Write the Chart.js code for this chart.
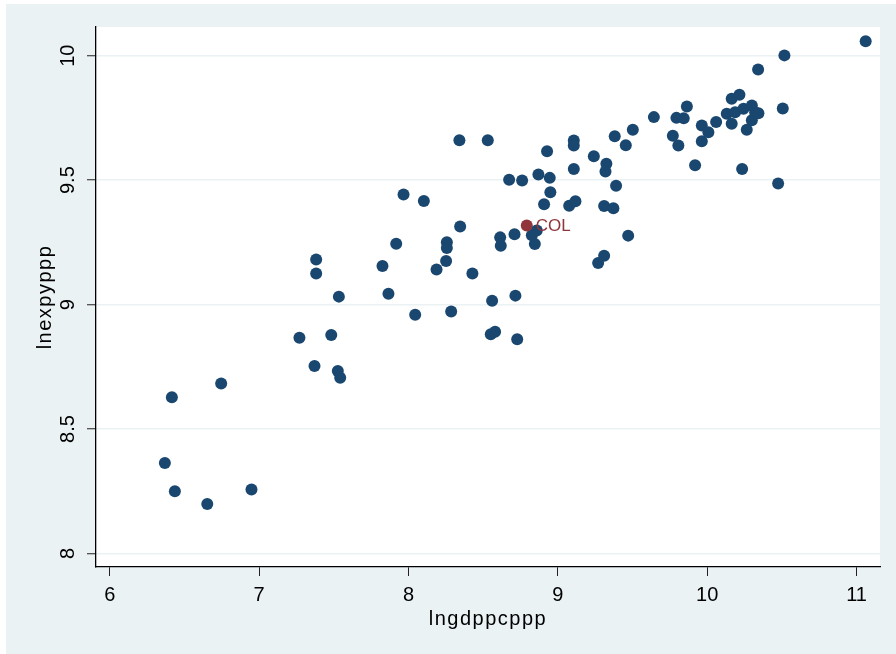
<!DOCTYPE html>
<html>

<head>
    <title>lnexpyppp vs lngdppcppp</title>
    <script src="https://cdn.jsdelivr.net/npm/chart.js"></script>
    <style>
        body { margin: 0; background: #ffffff; }
        #chart { position: absolute; left: 6px; top: 4px; background: #eaf2f3; }
    </style>
</head>

<body>
    <canvas id="chart" width="890" height="650"></canvas>
    <script>
        // values
        const xVals = [6.416, 6.746, 6.369, 6.436, 6.653, 6.949,
            7.270, 7.483, 7.371, 7.527, 7.543, 7.382, 7.382, 7.534, 7.826, 7.866, 7.918, 7.967,
            8.045, 8.103, 8.188, 8.252, 8.257, 8.257, 8.286, 8.346, 8.341, 8.428, 8.531, 8.551,
            8.580, 8.560, 8.614, 8.618, 8.674, 8.710, 8.716, 8.728, 8.761, 8.826, 8.846, 8.859,
            8.870, 8.908, 8.928, 8.946, 8.950, 9.076, 9.107, 9.107, 9.107, 9.118, 9.241, 9.270,
            9.310, 9.310, 9.325, 9.319, 9.372, 9.381, 9.390, 9.455, 9.471, 9.502, 9.643, 9.770,
            9.794, 9.807, 9.843, 9.864, 9.919, 9.964, 9.964, 10.008, 10.060, 10.131, 10.164,
            10.164, 10.187, 10.216, 10.234, 10.243, 10.265, 10.299, 10.299, 10.321, 10.343,
            10.341, 10.475, 10.506, 10.517, 11.061];
        const yVals = [8.628, 8.683, 8.364, 8.250, 8.199, 8.257,
            8.867, 8.878, 8.753, 8.733, 8.706, 9.181, 9.125, 9.032, 9.155, 9.044, 9.244, 9.442,
            8.959, 9.416, 9.141, 9.175, 9.250, 9.227, 8.972, 9.314, 9.660, 9.125, 9.660, 8.881,
            8.891, 9.015, 9.270, 9.236, 9.501, 9.283, 9.036, 8.861, 9.498, 9.279, 9.243, 9.298,
            9.523, 9.403, 9.616, 9.509, 9.451, 9.397, 9.659, 9.639, 9.545, 9.415, 9.596, 9.167,
            9.196, 9.396, 9.566, 9.535, 9.387, 9.676, 9.477, 9.640, 9.277, 9.702, 9.753, 9.678,
            9.750, 9.639, 9.748, 9.796, 9.560, 9.719, 9.656, 9.692, 9.733, 9.767, 9.827,
            9.726, 9.773, 9.843, 9.545, 9.787, 9.702, 9.800, 9.740, 9.773, 9.769,
            9.944, 9.486, 9.788, 10.001, 10.058];

        // highlighted country
        const colX = [8.792];
        const colY = [9.318];
        const colLabel = ['COL'];

        const xTicks = [6, 7, 8, 9, 10, 11];
        const xTickLabels = ['6', '7', '8', '9', '10', '11'];
        const yTicks = [8, 8.5, 9, 9.5, 10];
        const yTickLabels = ['8', '8.5', '9', '9.5', '10'];

        const navy = '#1a476f';
        const maroon = '#90353b';
        const fontFamily = '"Liberation Sans", Arial, Helvetica, sans-serif';

        const mainPoints = xVals.map((x, i) => ({ x: x, y: yVals[i] }));
        const colPoints = colX.map((x, i) => ({ x: x, y: colY[i] }));

        const plotBg = {
            id: 'plotBg',
            beforeDraw(chart) {
                const { ctx, chartArea: a } = chart;
                ctx.save();
                ctx.fillStyle = '#ffffff';
                ctx.fillRect(a.left, a.top, a.right - a.left, a.bottom - a.top);
                ctx.restore();
            }
        };

        // axis titles in the reference are a bit spread out
        const wideTitles = {
            id: 'wideTitles',
            afterLayout(chart) {
                Object.values(chart.scales).forEach(s => {
                    if (s._wideTitle) return;
                    const orig = s.drawTitle;
                    s.drawTitle = function () {
                        this.ctx.letterSpacing = '1.5px';
                        orig.apply(this, arguments);
                        this.ctx.letterSpacing = '0px';
                    };
                    s._wideTitle = true;
                });
            }
        };

        const pointLabels = {
            id: 'pointLabels',
            afterDatasetsDraw(chart) {
                const ctx = chart.ctx;
                const meta = chart.getDatasetMeta(0);
                ctx.save();
                ctx.font = '17px ' + fontFamily;
                ctx.fillStyle = maroon;
                ctx.textAlign = 'left';
                ctx.textBaseline = 'middle';
                meta.data.forEach((pt, i) => {
                    ctx.fillText(colLabel[i], pt.x + 9, pt.y + 1);
                });
                ctx.restore();
            }
        };

        new Chart(document.getElementById('chart'), {
            type: 'scatter',
            data: {
                datasets: [{
                    label: 'COL',
                    data: colPoints,
                    backgroundColor: maroon,
                    borderWidth: 0,
                    pointRadius: 6,
                    pointHoverRadius: 6
                }, {
                    label: 'lnexpyppp',
                    data: mainPoints,
                    backgroundColor: navy,
                    borderWidth: 0,
                    pointRadius: 6,
                    pointHoverRadius: 6
                }]
            },
            options: {
                responsive: false,
                animation: false,
                layout: { padding: { left: 0, top: 23, right: 16, bottom: 0 } },
                plugins: {
                    legend: { display: false },
                    tooltip: { enabled: false }
                },
                scales: {
                    x: {
                        type: 'linear',
                        min: 5.908,
                        max: 11.157,
                        afterBuildTicks: s => { s.ticks = xTicks.map(v => ({ value: v })); },
                        afterFit: s => { s.height = 87; },
                        border: { display: true, color: '#000000', width: 1.3 },
                        grid: { drawOnChartArea: false, tickLength: 9, tickColor: '#222222', tickWidth: 1 },
                        ticks: {
                            autoSkip: false,
                            maxRotation: 0,
                            padding: 7,
                            color: '#000000',
                            font: { family: fontFamily, size: 20, lineHeight: 1.2 },
                            callback: (v, i) => xTickLabels[i]
                        },
                        title: {
                            display: true,
                            text: 'lngdppcppp',
                            color: '#000000',
                            font: { family: fontFamily, size: 20, lineHeight: 1.2 },
                            padding: { top: 0, bottom: 23 }
                        }
                    },
                    y: {
                        type: 'linear',
                        min: 7.946,
                        max: 10.115,
                        afterBuildTicks: s => { s.ticks = yTicks.map(v => ({ value: v })); },
                        afterFit: s => { s.width = 90; },
                        border: { display: true, color: '#000000', width: 1.3 },
                        grid: { color: '#eaf2f3', lineWidth: 1.5, tickLength: 9, tickColor: '#222222', tickWidth: 1 },
                        ticks: {
                            autoSkip: false,
                            minRotation: 90,
                            maxRotation: 90,
                            crossAlign: 'center',
                            padding: 5,
                            color: '#000000',
                            font: { family: fontFamily, size: 20, lineHeight: 1.2 },
                            callback: (v, i) => yTickLabels[i]
                        },
                        title: {
                            display: true,
                            text: 'lnexpyppp',
                            color: '#000000',
                            font: { family: fontFamily, size: 20, lineHeight: 1.2 },
                            padding: { top: 27, bottom: 0 }
                        }
                    }
                }
            },
            plugins: [plotBg, wideTitles, pointLabels]
        });
    </script>
</body>

</html>
